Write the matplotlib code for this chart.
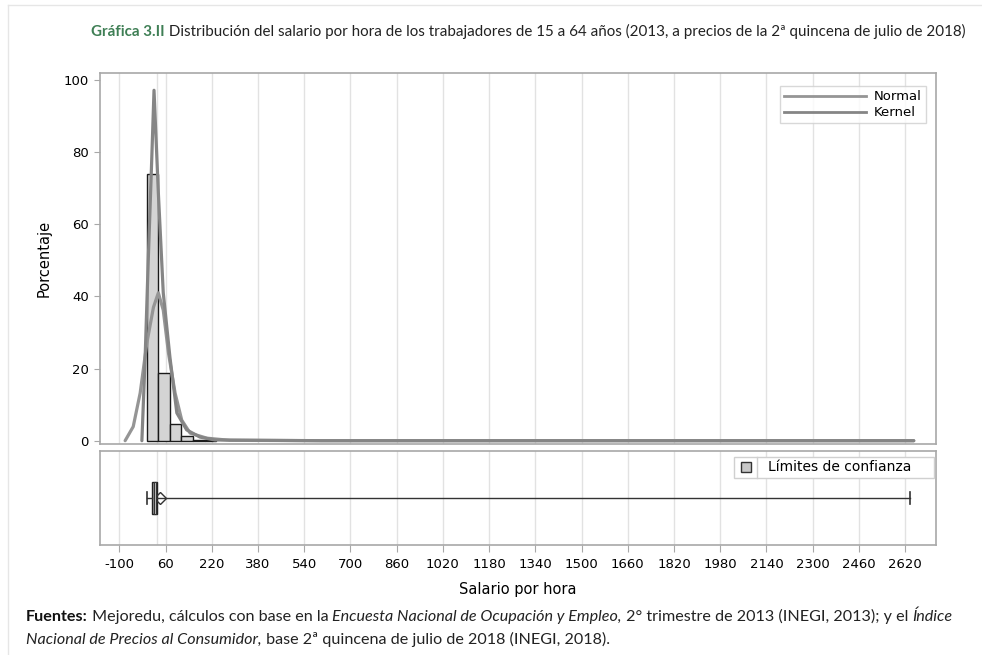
import numpy as np
import matplotlib
matplotlib.use('Agg')
import matplotlib.pyplot as plt
from matplotlib.patches import Rectangle
from matplotlib.lines import Line2D

# histogram (percentage per bin)
bin_edges = [-5, 35, 75, 115, 155, 195, 235]
bin_pct = [73.9, 18.7, 4.5, 1.3, 0.3, 0.1]

# density curves (salario, porcentaje)
normal_x = [-80, -52, -28, -5, 18, 35, 52, 70, 93, 116, 145, 203, 283, 600, 1200, 2000, 2650]
normal_y = [0, 3.9, 13.2, 27, 37, 41, 36.2, 24.3, 13.2, 5.7, 2.1, 0.7, 0.1, 0, 0, 0, 0]
kernel_x = [-22, -11, 0, 12, 20, 35, 52, 75, 99, 133, 179, 231, 600, 1200, 2000, 2650]
kernel_y = [0, 22.4, 50, 77.8, 97.2, 68.7, 41, 23.2, 7.7, 3, 1, 0.2, 0, 0, 0, 0]

# box plot summary
box_q1, box_med, box_q3 = 12, 23, 32
whisker_lo, whisker_hi = -6, 2637
box_mean = 42
ci_lo, ci_hi = 19, 27
ref_line = 30

xticks = list(range(-100, 2621, 160))
yticks = [0, 20, 40, 60, 80, 100]

W, H = 982, 655
fig = plt.figure(figsize=(W / 100, H / 100), dpi=100)

def fax(l, t, r, b):
    return fig.add_axes([l / W, 1 - b / H, (r - l) / W, (b - t) / H])

grid_c = '#e2e2e2'
spine_c = '#a8a8a8'
xmin, xmax = -167, 2727

# ---- top panel: histogram + curves
ax1 = fax(100, 73.3, 936, 444.3)
for xt in xticks:
    ax1.axvline(xt, color=grid_c, lw=1, zorder=0)
ax1.axvline(ref_line, color=grid_c, lw=1, zorder=0)
ax1.bar(bin_edges[:-1], bin_pct, width=np.diff(bin_edges), align='edge',
        color='#d4d4d4', edgecolor='#1a1a1a', lw=1, zorder=2)
ax1.plot(normal_x, normal_y, color='#959595', lw=2.3, zorder=3, solid_capstyle='round')
ax1.plot(kernel_x, kernel_y, color='#858585', lw=2.3, zorder=4, solid_capstyle='round')
ax1.set_xlim(xmin, xmax)
ax1.set_ylim(-1.0, 101.9)
ax1.set_xticks([])
ax1.set_yticks(yticks)
ax1.tick_params(axis='y', length=4, color=spine_c, labelsize=9.5, pad=4)
for s in ax1.spines.values():
    s.set_color(spine_c)
    s.set_linewidth(1.2)
ax1.set_ylabel('Porcentaje', fontsize=10.5, labelpad=9)

leg = ax1.legend(handles=[Line2D([], [], color='#959595', lw=2),
                          Line2D([], [], color='#858585', lw=2)],
                 labels=['Normal', 'Kernel'], loc='upper right',
                 bbox_to_anchor=(0.9955, 0.983), fontsize=9.5, frameon=True,
                 fancybox=False, edgecolor='#cfcfcf', handlelength=6.2,
                 handletextpad=0.6, borderpad=0.3, labelspacing=0.25,
                 markerfirst=True)
leg.get_frame().set_linewidth(1)

# ---- bottom panel: box plot
ax2 = fax(100, 451, 936, 545)
for xt in xticks:
    ax2.axvline(xt, color=grid_c, lw=1, zorder=0)
ax2.axvline(ref_line, color=grid_c, lw=1, zorder=0)
stats = [dict(q1=box_q1, med=box_med, q3=box_q3, whislo=whisker_lo,
              whishi=whisker_hi, mean=box_mean, fliers=[])]
ax2.bxp(stats, positions=[0.5], widths=0.33, vert=False, patch_artist=True,
        showmeans=True, showfliers=False,
        boxprops=dict(facecolor='#9a9a9a', edgecolor='#222222', lw=1),
        medianprops=dict(color='#222222', lw=1),
        whiskerprops=dict(color='#333333', lw=1),
        capprops=dict(color='#333333', lw=1.2), capwidths=0.13,
        meanprops=dict(marker='D', markerfacecolor='none',
                       markeredgecolor='#333333', markersize=6.5))
ax2.add_patch(Rectangle((ci_lo, 0.5 - 0.165), ci_hi - ci_lo, 0.33,
                        facecolor='#c4c4c4', edgecolor='#333333', lw=0.8, zorder=3))
ax2.set_xlim(xmin, xmax)
ax2.set_ylim(0, 1)
ax2.set_yticks([])
ax2.set_xticks(xticks)
ax2.set_xticklabels([str(t) for t in xticks])
ax2.tick_params(axis='x', length=5, color=spine_c, labelsize=9.5, pad=4)
for s in ax2.spines.values():
    s.set_color(spine_c)
    s.set_linewidth(1.2)
ax2.set_xlabel('Salario por hora', fontsize=10.5, labelpad=8)

# legend box for confidence limits
lx0, lx1 = (734.3 - 100) / 836, (934.3 - 100) / 836
ly0, ly1 = (545 - 477.7) / 94, (545 - 456.7) / 94
ldiv = (756.7 - 100) / 836
ax2.add_patch(Rectangle((lx0, ly0), lx1 - lx0, ly1 - ly0, transform=ax2.transAxes,
                        facecolor='white', edgecolor='#d0d0d0', lw=1, zorder=5))
ax2.add_line(Line2D([ldiv, ldiv], [ly0, ly1], transform=ax2.transAxes,
                    color='#d0d0d0', lw=1, zorder=6))
sq_w = 10 / 836
sq_h = 10 / 94
ax2.add_patch(Rectangle(((746 - 100) / 836 - sq_w / 2, (ly0 + ly1) / 2 - sq_h / 2),
                        sq_w, sq_h, transform=ax2.transAxes, facecolor='#c8c8c8',
                        edgecolor='#333333', lw=1, zorder=6))
ax2.text((768 - 100) / 836, (ly0 + ly1) / 2, 'Límites de confianza',
         transform=ax2.transAxes, fontsize=10, va='center', ha='left', zorder=7)

# ---- page frame
fig.add_artist(Line2D([8 / W, 8 / W], [0, 1 - 5 / H], color='#e6e6e6', lw=1))
fig.add_artist(Line2D([8 / W, 1], [1 - 5 / H, 1 - 5 / H], color='#e6e6e6', lw=1))

# ---- mixed-style text rows
renderer = fig.canvas.get_renderer()

def run_text(x, y, pieces, size, family='Lato'):
    for s, weight, style, color in pieces:
        t = fig.text(x / W, 1 - y / H, s, fontsize=size, family=family,
                     weight=weight, style=style, color=color, va='baseline')
        bb = t.get_window_extent(renderer)
        x += bb.width

run_text(91, 36, [
    ('Gráfica 3.II', 'bold', 'normal', '#3f7f55'),
    (' Distribución del salario por hora de los trabajadores de 15 a 64 años '
     '(2013, a precios de la 2ª quincena de julio de 2018)', 'normal', 'normal', '#222222'),
], 10.9)

run_text(26, 621, [
    ('Fuentes:', 'bold', 'normal', '#111111'),
    (' Mejoredu, cálculos con base en la ', 'normal', 'normal', '#222222'),
    ('Encuesta Nacional de Ocupación y Empleo,', 'normal', 'italic', '#222222'),
    (' 2° trimestre de 2013 (INEGI, 2013); y el ', 'normal', 'normal', '#222222'),
    ('Índice', 'normal', 'italic', '#222222'),
], 11.6)
run_text(26, 644, [
    ('Nacional de Precios al Consumidor,', 'normal', 'italic', '#222222'),
    (' base 2ª quincena de julio de 2018 (INEGI, 2018).', 'normal', 'normal', '#222222'),
], 11.6)

fig.savefig('out.png', dpi=100)
